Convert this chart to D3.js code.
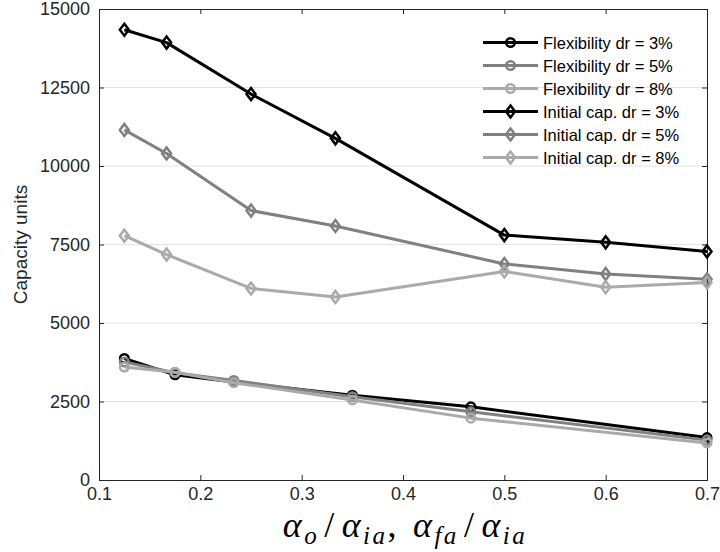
<!DOCTYPE html>
<html>
<head>
<meta charset="utf-8">
<script src="https://cdn.jsdelivr.net/npm/d3@7"></script>
<style>
  body { margin: 0; background: #fff; }
  svg { display: block; }
</style>
</head>
<body>
<svg id="chart" width="720" height="552"></svg>
<script>
// ---- data ----
const flexX = [0.125, 0.175, 0.233, 0.35, 0.467, 0.7];
const flexDr3 = [3870, 3350, 3120, 2700, 2330, 1350];
const flexDr5 = [3760, 3420, 3170, 2650, 2170, 1270];
const flexDr8 = [3600, 3430, 3100, 2550, 1970, 1180];

const initX = [0.125, 0.1667, 0.25, 0.3333, 0.5, 0.6, 0.7];
const initDr3 = [14340, 13930, 12290, 10880, 7800, 7570, 7280];
const initDr5 = [11150, 10400, 8580, 8090, 6880, 6560, 6390];
const initDr8 = [7780, 7180, 6100, 5830, 6640, 6140, 6290];

const seriesNames = ["Flexibility dr = 3%", "Flexibility dr = 5%", "Flexibility dr = 8%",
                     "Initial cap. dr = 3%", "Initial cap. dr = 5%", "Initial cap. dr = 8%"];
const xTicks = [0.1, 0.2, 0.3, 0.4, 0.5, 0.6, 0.7];
const yTicks = [0, 2500, 5000, 7500, 10000, 12500, 15000];
const yTitle = "Capacity units";

const colors = ["#000000", "#808080", "#aaaaaa"];

const series = [
  {name: seriesNames[0], xs: flexX, ys: flexDr3, color: colors[0], marker: "circle"},
  {name: seriesNames[1], xs: flexX, ys: flexDr5, color: colors[1], marker: "circle"},
  {name: seriesNames[2], xs: flexX, ys: flexDr8, color: colors[2], marker: "circle"},
  {name: seriesNames[3], xs: initX, ys: initDr3, color: colors[0], marker: "diamond"},
  {name: seriesNames[4], xs: initX, ys: initDr5, color: colors[1], marker: "diamond"},
  {name: seriesNames[5], xs: initX, ys: initDr8, color: colors[2], marker: "diamond"},
];

// ---- layout ----
const L = 99, R = 707, T = 9, B = 480;
const svg = d3.select("#chart");
const x = d3.scaleLinear().domain([0.1, 0.7]).range([L, R]);
const y = d3.scaleLinear().domain([0, 15000]).range([B, T]);
const axisColor = "#262626";
const font = "'Liberation Sans', Arial, sans-serif";

// grid
svg.append("g").selectAll("line").data(yTicks.filter(d => d > 0 && d < 15000)).join("line")
  .attr("x1", L).attr("x2", R).attr("y1", d => y(d)).attr("y2", d => y(d))
  .attr("stroke", "#e3e3e3").attr("stroke-width", 1);

// axes
const tickLen = 5;
const gx = svg.append("g").attr("transform", `translate(0,${B})`)
  .call(d3.axisBottom(x).tickValues(xTicks).tickSize(-tickLen).tickPadding(7).tickFormat(d3.format(".1f")));
const gxTop = svg.append("g").attr("transform", `translate(0,${T})`)
  .call(d3.axisTop(x).tickValues(xTicks).tickSize(-tickLen).tickFormat(""));
const gy = svg.append("g").attr("transform", `translate(${L},0)`)
  .call(d3.axisLeft(y).tickValues(yTicks).tickSize(-tickLen).tickPadding(9).tickFormat(d3.format("d")));
const gyR = svg.append("g").attr("transform", `translate(${R},0)`)
  .call(d3.axisRight(y).tickValues(yTicks).tickSize(-tickLen).tickFormat(""));
[gx, gxTop, gy, gyR].forEach(g => {
  g.selectAll("path.domain").attr("stroke", axisColor).attr("stroke-width", 1);
  g.selectAll(".tick line").attr("stroke", axisColor).attr("stroke-width", 1);
  g.selectAll(".tick text").attr("fill", axisColor).style("font-family", font).style("font-size", "18px");
});

// titles
svg.append("text")
  .attr("transform", `translate(27,${(T + B) / 2}) rotate(-90)`)
  .attr("text-anchor", "middle")
  .style("font-family", font).style("font-size", "19px").attr("fill", axisColor)
  .text(yTitle);

const xl = svg.append("text")
  .attr("x", 405).attr("y", 537).attr("text-anchor", "middle")
  .style("font-family", "'Liberation Serif', 'DejaVu Serif', serif").style("font-size", "36px")
  .style("font-style", "italic").style("letter-spacing", "2.5px").attr("fill", "#000");
const parts = [["α", 0], ["o", 1], ["/", 0, "normal", 5], ["α", 0, null, 5], ["ia", 1], [",", 0, "normal"],
               ["α", 0, null, 14], ["fa", 1], ["/", 0, "normal", 5], ["α", 0, null, 5], ["ia", 1]];
let shifted = false;
parts.forEach(p => {
  const t = xl.append("tspan").text(p[0]);
  if (p[1] && !shifted) { t.attr("dy", 7).style("font-size", "25px"); shifted = true; }
  else if (p[1]) { t.style("font-size", "25px"); }
  else if (shifted) { t.attr("dy", -7); shifted = false; }
  if (p[2]) t.style("font-style", "normal");
  if (p[3]) t.attr("dx", p[3]);
});

// marker drawing
function drawMarker(g, type, cx, cy, color) {
  if (type === "circle") {
    g.append("circle").attr("cx", cx).attr("cy", cy).attr("r", 4.3)
      .attr("fill", "none").attr("stroke", color).attr("stroke-width", 2.5);
  } else {
    const s = 6;
    g.append("path").attr("d", `M${cx},${cy - s}L${cx + s * 0.75},${cy}L${cx},${cy + s}L${cx - s * 0.75},${cy}Z`)
      .attr("fill", "none").attr("stroke", color).attr("stroke-width", 2.5);
  }
}

// series
const line = d3.line().x(d => x(d[0])).y(d => y(d[1]));
series.forEach(s => {
  const pts = s.xs.map((v, i) => [v, s.ys[i]]);
  const g = svg.append("g");
  g.append("path").datum(pts).attr("d", line).attr("fill", "none")
    .attr("stroke", s.color).attr("stroke-width", 3).attr("stroke-linejoin", "round");
  pts.forEach(p => drawMarker(g, s.marker, x(p[0]), y(p[1]), s.color));
});

// legend
const lg = svg.append("g");
series.forEach((s, i) => {
  const ly = 42.5 + i * 23;
  lg.append("line").attr("x1", 483).attr("x2", 538).attr("y1", ly).attr("y2", ly)
    .attr("stroke", s.color).attr("stroke-width", 3);
  drawMarker(lg, s.marker, 510.5, ly, s.color);
  lg.append("text").attr("x", 543).attr("y", ly + 6)
    .style("font-family", font).style("font-size", "16.5px").attr("fill", "#000").text(s.name);
});
</script>
</body>
</html>
